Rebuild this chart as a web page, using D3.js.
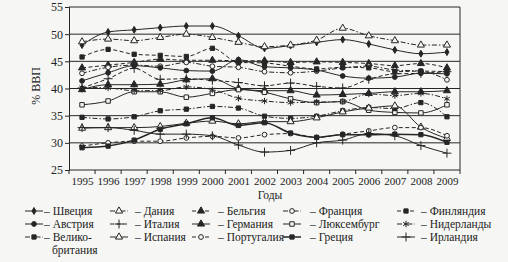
<!DOCTYPE html>
<html><head><meta charset="utf-8">
<script src="https://cdn.jsdelivr.net/npm/d3@7"></script>
<style>
html,body{margin:0;padding:0;background:#f6f6f4;}
svg{display:block;}
text{font-family:"Liberation Serif","DejaVu Serif",serif;fill:#222;}
</style></head><body>
<svg id="c" width="508" height="262"></svg>
<script>
const years = [1995,1996,1997,1998,1999,2000,2001,2002,2003,2004,2005,2006,2007,2008,2009];
const yTicks = [25,30,35,40,45,50,55];
const names = ["Швеция","Дания","Бельгия","Франция","Финляндия",
               "Австрия","Италия","Германия","Люксембург","Нидерланды",
               "Велико-|британия","Испания","Португалия","Греция","Ирландия"];
const sweden      = [48.0,50.4,50.8,51.2,51.5,51.5,49.7,47.4,47.9,48.5,49.0,48.2,47.1,46.4,46.7];
const denmark     = [48.6,49.1,48.8,49.4,50.0,49.4,48.5,47.7,48.0,48.9,51.1,49.7,48.8,48.0,48.0];
const belgium     = [43.8,44.3,44.8,45.4,45.2,45.2,45.1,45.1,44.8,44.9,44.8,44.6,44.2,44.6,43.8];
const france      = [42.8,43.9,44.3,44.1,44.8,44.1,43.9,43.1,42.9,43.2,43.8,44.1,43.4,43.2,41.6];
const finland     = [45.8,47.2,46.3,46.1,45.9,47.4,44.8,44.7,44.1,43.6,43.9,43.8,43.1,43.2,43.1];
const austria     = [41.4,42.9,44.2,43.8,43.3,43.2,45.3,44.0,43.8,43.4,42.3,41.9,42.1,42.8,42.7];
const italy       = [40.1,41.8,43.7,41.7,41.8,41.5,41.1,40.5,41.0,40.4,40.1,41.7,42.7,42.8,43.1];
const germany     = [39.8,40.7,40.7,40.8,41.6,41.8,40.0,39.6,39.6,38.8,38.9,39.1,39.4,39.4,39.6];
const luxembourg  = [37.0,37.7,39.4,39.4,38.4,39.1,39.8,39.3,38.1,37.4,37.6,36.0,35.6,35.5,37.0];
const netherlands = [40.2,40.1,39.6,39.6,40.3,39.8,38.2,37.7,37.4,37.5,37.6,39.0,38.7,39.1,38.1];
const uk          = [34.7,34.4,34.8,35.9,36.2,36.7,36.4,34.9,34.5,34.9,35.9,36.5,36.3,37.4,34.8];
const spain       = [32.7,32.8,32.8,33.0,33.6,34.0,33.5,33.9,33.9,34.6,35.7,36.4,36.8,32.9,30.8];
const portugal    = [29.4,30.0,30.3,30.3,30.9,31.2,30.9,31.5,31.7,31.0,31.6,32.2,32.8,32.8,31.3];
const greece      = [29.1,29.4,30.5,32.5,33.5,34.6,33.2,33.7,31.8,31.0,31.5,31.5,31.6,31.5,30.1];
const ireland     = [32.8,32.8,32.3,31.6,31.6,31.3,29.6,28.3,28.6,30.0,30.5,31.7,31.3,29.5,28.1];

const seriesValues = [sweden,denmark,belgium,france,finland,austria,italy,germany,luxembourg,netherlands,uk,spain,portugal,greece,ireland];
const DASH="4,2.5", DASHDOT="5,2,1.5,2", SOLID=null;
const styles = [
 {dash:SOLID, m:"dot"}, {dash:DASHDOT, m:"triOpen"}, {dash:DASH, m:"triFill"}, {dash:DASHDOT, m:"circOpen"}, {dash:DASH, m:"sqFill"},
 {dash:SOLID, m:"circFill"}, {dash:DASH, m:"plus"}, {dash:SOLID, m:"triFill"}, {dash:SOLID, m:"sqOpen"}, {dash:DASHDOT, m:"star"},
 {dash:DASHDOT, m:"sqFill"}, {dash:SOLID, m:"triOpen"}, {dash:DASH, m:"circOpen"}, {dash:SOLID, m:"sqFill", w:1.5}, {dash:SOLID, m:"plus"}
];

const svg = d3.select("#c");
const L=69, R=460, T=7, B=170;
const x = d3.scaleBand().domain(years).range([L,R]).padding(0);
const bw = x.bandwidth();
const cx = d3.scalePoint().domain(years).range([L+bw/2, R-bw/2]);
const y = d3.scaleLinear().domain([25,55]).range([B,T]);
const ink="#262626";

svg.append("g").selectAll("line").data(yTicks.filter(v=>v>25)).join("line")
  .attr("x1",L).attr("x2",R).attr("y1",d=>y(d)).attr("y2",d=>y(d))
  .attr("stroke",ink).attr("stroke-width",1);
svg.append("line").attr("x1",R).attr("x2",R).attr("y1",T).attr("y2",B).attr("stroke",ink);

const ya = svg.append("g").attr("transform",`translate(${L},0)`)
  .call(d3.axisLeft(y).tickValues(yTicks).tickSize(4).tickPadding(2).tickFormat(d3.format("d")));
ya.select(".domain").attr("stroke",ink);
ya.selectAll("line").attr("stroke",ink);
ya.selectAll("text").style("font-size","12px").style("font-family","Liberation Serif").attr("fill",ink);

const xa = svg.append("g").attr("transform",`translate(0,${B})`)
  .call(d3.axisBottom(cx).tickSize(0).tickPadding(7));
xa.select(".domain").attr("stroke",ink).attr("d",`M${L},0H${R}`);
xa.selectAll("text").style("font-size","11px").style("font-family","Liberation Serif").attr("fill",ink);
svg.append("g").selectAll("line").data(years.concat([null])).join("line")
  .attr("x1",d=>d===null?R:x(d)).attr("x2",d=>d===null?R:x(d))
  .attr("y1",B).attr("y2",B+4).attr("stroke",ink);

svg.append("text").attr("x",270).attr("y",199).attr("text-anchor","middle")
  .style("font-size","11.5px").text("Годы");
svg.append("text").attr("transform","translate(40,86) rotate(-90)").attr("text-anchor","middle")
  .style("font-size","12px").text("% ВВП");

function marker(g, type, px, py){
  let sym, fill, stroke=ink, sw=1;
  switch(type){
    case "dot": sym=d3.symbol(d3.symbolDiamond, 14); fill=ink; break;
    case "triOpen": sym=d3.symbol(d3.symbolTriangle, 22); fill="#f6f6f4"; break;
    case "triFill": sym=d3.symbol(d3.symbolTriangle, 22); fill=ink; break;
    case "circOpen": sym=d3.symbol(d3.symbolCircle, 18); fill="#f6f6f4"; break;
    case "circFill": sym=d3.symbol(d3.symbolCircle, 18); fill=ink; break;
    case "sqFill": sym=d3.symbol(d3.symbolSquare, 18); fill=ink; break;
    case "sqOpen": sym=d3.symbol(d3.symbolSquare, 20); fill="#f6f6f4"; break;
    case "plus": sym=d3.symbol(d3.symbolPlus, 28); fill="none"; break;
    case "star": sym=d3.symbol(d3.symbolAsterisk, 28); fill="none"; break;
  }
  g.append("path").attr("d",sym()).attr("transform",`translate(${px},${py})`)
    .attr("fill",fill).attr("stroke",stroke).attr("stroke-width",sw);
}

const line = d3.line().x((d,i)=>cx(years[i])).y(d=>y(d)).curve(d3.curveMonotoneX);
seriesValues.forEach((vals,k)=>{
  const st = styles[k];
  const g = svg.append("g");
  g.append("path").attr("d",line(vals)).attr("fill","none").attr("stroke",ink)
    .attr("stroke-width",st.w||1).attr("stroke-dasharray",st.dash);
  vals.forEach((v,i)=>marker(g, st.m, cx(years[i]), y(v)));
});

const colSym = [25,110,192,283,397];
const colTxt = [44,135,218,310,421];
const rowY = [215,228,241];
names.forEach((n,k)=>{
  const r = Math.floor(k/5), c = k%5, st = styles[k];
  const g = svg.append("g");
  const ly = rowY[r]-4;
  g.append("line").attr("x1",colSym[c]).attr("x2",colSym[c]+18).attr("y1",ly).attr("y2",ly)
    .attr("stroke",ink).attr("stroke-width",st.w||1).attr("stroke-dasharray",st.dash);
  marker(g, st.m, colSym[c]+9, ly);
  const parts = n.split("|");
  g.append("text").attr("x",colTxt[c]).attr("y",rowY[r]).style("font-size","11.5px").text("– "+parts[0]);
  if(parts[1]) g.append("text").attr("x",colTxt[c]+8).attr("y",rowY[r]+13).style("font-size","11.5px").text(parts[1]);
});
</script></body></html>
